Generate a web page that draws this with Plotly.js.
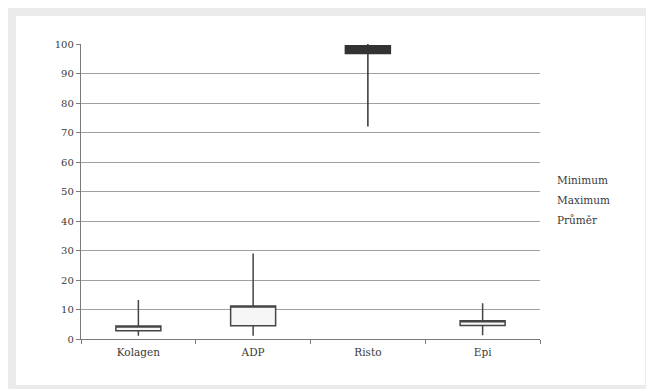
<!DOCTYPE html>
<html>
<head>
<meta charset="utf-8">
<script src="https://cdn.plot.ly/plotly-3.0.1.min.js"></script>
<style>
  html, body { margin:0; padding:0; background:#ffffff; width:646px; height:389px; overflow:hidden; }
  #frame { position:absolute; left:8px; top:8px; width:638px; height:381px; background:#ebebeb; }
  #inner { position:absolute; left:16px; top:16px; width:629px; height:369px; background:#ffffff; }
  #chart { position:absolute; left:0; top:0; width:646px; height:389px; }
</style>
</head>
<body>
<div id="frame"></div>
<div id="inner"></div>
<div id="chart"></div>
<script>
// Data (Excel-style stock chart)
const categories = ["Kolagen", "ADP", "Risto", "Epi"];
const openVals   = [2.8, 4.5, 99.4, 4.6];
const closeVals  = [4.4, 11.2, 96.8, 6.2];
const highVals   = [13.2, 29, 100, 12.1];
const lowVals    = [1.1, 1.1, 72, 1.3];
const legendLabels = ["Minimum", "Maximum", "Průměr"];
const yTickVals = [0, 10, 20, 30, 40, 50, 60, 70, 80, 90, 100];

const FONT = "DejaVu Serif, Liberation Serif, serif";

const trace = {
  type: "candlestick",
  x: categories,
  open: openVals,
  high: highVals,
  low: lowVals,
  close: closeVals,
  increasing: { line: { color: "#454545", width: 1.5 }, fillcolor: "#f6f6f6" },
  decreasing: { line: { color: "#333333", width: 1.5 }, fillcolor: "#333333" },
  whiskerwidth: 0,
  showlegend: false,
  hoverinfo: "skip"
};

const annotations = legendLabels.map((t, i) => ({
  text: t,
  xref: "paper", yref: "paper",
  x: 1.032, xanchor: "left",
  y: 0.539 - i * 0.068, yanchor: "middle",
  showarrow: false,
  font: { family: FONT, size: 10.5, color: "#3a3a3a" }
}));

const layout = {
  width: 646, height: 389,
  margin: { l: 81, r: 106, t: 44, b: 50, pad: 0 },
  paper_bgcolor: "rgba(0,0,0,0)",
  plot_bgcolor: "rgba(0,0,0,0)",
  showlegend: false,
  boxgap: 0.44,
  xaxis: {
    type: "category",
    range: [-0.5, 3.5],
    rangeslider: { visible: false },
    showgrid: false,
    zeroline: false,
    showline: true,
    linecolor: "#7a7a7a",
    linewidth: 1.2,
    ticks: "outside",
    tickson: "boundaries",
    ticklen: 4,
    tickcolor: "#7a7a7a",
    ticklabelstandoff: 3,
    tickfont: { family: FONT, size: 10.5, color: "#3a3a3a" },
    fixedrange: true
  },
  yaxis: {
    range: [0, 100],
    tickvals: yTickVals,
    showgrid: true,
    gridcolor: "#a0a0a0",
    gridwidth: 1,
    zeroline: false,
    showline: true,
    linecolor: "#7a7a7a",
    linewidth: 1.2,
    ticks: "outside",
    ticklen: 4,
    tickcolor: "#7a7a7a",
    tickfont: { family: FONT, size: 10, color: "#3a3a3a" },
    fixedrange: true
  },
  annotations: annotations
};

Plotly.newPlot("chart", [trace], layout, { staticPlot: true, displayModeBar: false });
</script>
</body>
</html>
